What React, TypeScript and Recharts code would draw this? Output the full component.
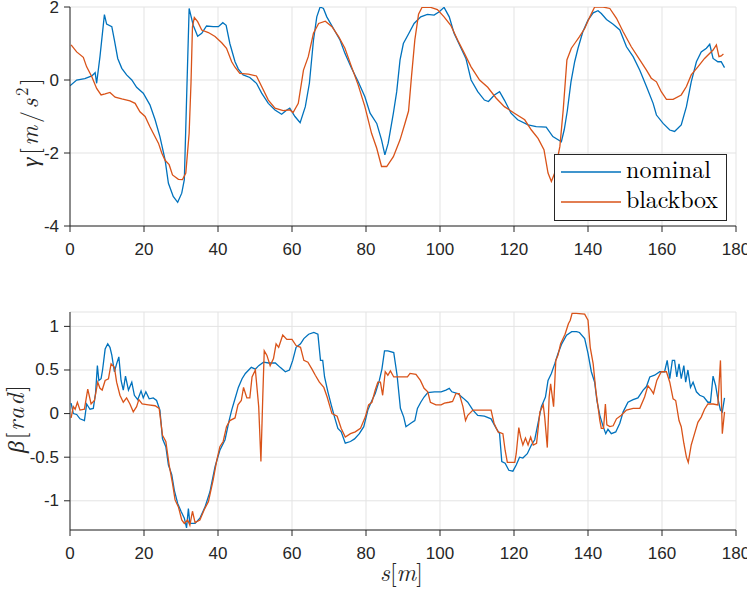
import React from 'react';
import { LineChart, Line, XAxis, YAxis, CartesianGrid, Legend, Label } from 'recharts';

const AXIS = '#262626';
const GRID = '#e3e3e3';
const BLUE = '#0072BD';
const ORANGE = '#D95319';
const TICK_FONT = '"Liberation Sans", Arial, Helvetica, sans-serif';
const MATH_FONT = '"Latin Modern Roman", "Liberation Serif", serif';

const xTicks = [0, 20, 40, 60, 80, 100, 120, 140, 160, 180];
const gammaTicks = [-4, -2, 0, 2];
const betaTicks = [-1, -0.5, 0, 0.5, 1];
const legendOrder = ['nominal', 'blackbox'];

// gamma (top), nominal
const gammaNominalS = [0, 1.8, 4, 5.9, 6.8, 7.2, 8.1, 9.3, 9.9, 11.3, 12, 12.9, 14, 15.3, 16.7, 18, 19.8, 21.6, 23, 24.3, 25.7, 26.6, 27.9, 29.1, 30.2, 30.9, 31.5, 32.2, 33.3, 34.5, 35.6, 36.9, 38.7, 40.1, 41.3, 42.2, 43.2, 44.6, 45.5, 46.8, 48.6, 50.4, 51.8, 53.6, 55.4, 57.2, 58.6, 59.4, 60.8, 62.2, 63.6, 64.7, 65.8, 66.7, 67.6, 68.5, 69.4, 71.2, 73, 74.3, 76.1, 77.9, 79.7, 81.1, 82.9, 84.2, 85.1, 86, 87.4, 88.3, 89.2, 90.1, 91.6, 93, 94.8, 96.6, 98.4, 99.8, 101.1, 102.5, 103.8, 105.7, 107, 108.4, 110.2, 112, 113.1, 114.7, 116.1, 117.4, 119.2, 121, 123.8, 126, 128.7, 130.5, 132.8, 133.6, 134.4, 135.4, 136.4, 137.3, 138.6, 140, 141.4, 142.7, 143.6, 145, 146.8, 148.6, 150.4, 152.2, 154, 155.8, 157.6, 158.5, 160.3, 162.1, 163.4, 165.2, 166.6, 167.9, 169.3, 170.6, 172, 172.9, 173.8, 175.1, 176, 176.9];
const gammaNominal = [-0.16, 0, 0.04, 0.11, 0.2, -0.09, 0.64, 1.79, 1.53, 1.46, 1.09, 0.59, 0.32, 0.14, 0, -0.2, -0.36, -0.68, -1.09, -1.55, -2.19, -2.83, -3.19, -3.35, -3.1, -2.73, -0.55, 1.96, 1.5, 1.2, 1.28, 1.48, 1.46, 1.46, 1.57, 1.5, 1.0, 0.5, 0.3, 0.14, 0.07, -0.09, -0.36, -0.64, -0.82, -0.94, -0.82, -0.77, -1.0, -1.17, -0.73, -0.09, 1.09, 1.73, 2.0, 1.96, 1.73, 1.41, 1.09, 0.73, 0.32, -0.05, -0.46, -0.91, -1.19, -1.64, -2.05, -1.73, -0.91, -0.32, 0.55, 1.0, 1.28, 1.55, 1.73, 1.8, 1.78, 1.87, 1.99, 1.73, 1.28, 0.87, 0.59, 0, -0.32, -0.55, -0.59, -0.41, -0.32, -0.55, -0.91, -1.09, -1.23, -1.28, -1.29, -1.55, -1.69, -1.35, -0.85, -0.05, 0.5, 0.87, 1.32, 1.64, 1.84, 1.9, 1.82, 1.66, 1.53, 1.37, 0.91, 0.64, 0.27, -0.18, -0.64, -0.96, -1.19, -1.37, -1.41, -1.23, -0.73, -0.05, 0.5, 0.77, 0.87, 0.98, 0.59, 0.5, 0.5, 0.34];

// gamma (top), blackbox
const gammaBlackboxS = [0.3, 1.8, 3.6, 4.5, 5.9, 7.2, 8.4, 9.5, 10.8, 12.2, 14, 16.2, 17.6, 18.9, 20.3, 21.6, 22.5, 23.9, 24.8, 25.7, 26.8, 27.7, 29.3, 30.4, 31.3, 32.2, 32.7, 33.1, 33.6, 34.5, 35.6, 37.4, 39.2, 41, 42.3, 43.7, 44.6, 45.9, 48.2, 50.4, 51.8, 53.6, 55.4, 57.6, 59.4, 60.3, 61.7, 63.1, 64.4, 65.8, 67.2, 69, 70.8, 72.6, 74.3, 76.1, 77.9, 79.7, 81.5, 82.9, 84.2, 85.6, 87.4, 89.2, 90.5, 91.5, 92.3, 93.2, 94.2, 95.2, 97.5, 99.3, 101.1, 102.9, 104.8, 106.6, 108.4, 110.7, 112.9, 115.2, 117.4, 120.1, 122.9, 124.7, 126.5, 128.1, 129.2, 130.1, 131, 132.4, 133.3, 134.3, 135.5, 136.4, 137.7, 139.1, 140.5, 141.8, 144.1, 145.9, 147.7, 149.5, 151.7, 154, 155.8, 157.1, 158.5, 159.8, 161.2, 163, 165.2, 166.6, 167.9, 169.7, 171.5, 173.8, 174.7, 175.4, 176, 176.6];
const gammaBlackbox = [0.96, 0.77, 0.62, 0.36, 0.09, -0.23, -0.41, -0.38, -0.34, -0.47, -0.52, -0.57, -0.64, -0.87, -1.0, -1.28, -1.46, -1.73, -2.0, -2.2, -2.32, -2.6, -2.72, -2.73, -2.55, -1.46, -0.09, 1.46, 1.71, 1.6, 1.37, 1.3, 1.19, 1.02, 0.87, 0.5, 0.35, 0.18, 0.16, 0.11, -0.18, -0.55, -0.77, -0.84, -0.82, -0.89, -0.64, 0.27, 0.64, 1.28, 1.55, 1.61, 1.46, 1.19, 0.87, 0.36, -0.14, -0.73, -1.46, -1.87, -2.37, -2.37, -2.1, -1.64, -1.2, -0.85, 0.1, 1.1, 1.8, 2.0, 1.99, 1.93, 1.73, 1.5, 1.09, 0.73, 0.36, 0, -0.2, -0.5, -0.73, -0.91, -1.09, -1.37, -1.6, -1.91, -2.55, -2.78, -2.55, -1.82, -0.82, 0.55, 0.87, 1.0, 1.19, 1.41, 1.73, 2.0, 2.0, 1.96, 1.69, 1.32, 0.91, 0.55, 0.27, 0.05, -0.05, -0.32, -0.53, -0.53, -0.41, -0.18, 0.14, 0.36, 0.59, 0.82, 0.96, 0.64, 0.66, 0.71];

// beta (bottom), nominal
const betaNominalS = [0.3, 0.9, 1.8, 2.7, 3.9, 4.5, 5.4, 6.3, 6.9, 7.4, 7.8, 8.4, 8.8, 9.5, 10.2, 10.8, 11.3, 12, 12.6, 13.2, 13.8, 14.4, 15, 15.8, 16.7, 17.4, 18.3, 19.2, 19.8, 20.5, 21.4, 22.5, 23.4, 24.3, 25, 25.9, 26.6, 27.5, 28.2, 29.1, 30, 30.9, 31.5, 32, 32.4, 33.8, 35.1, 36.5, 37.8, 39.2, 40.5, 41.9, 43, 43.7, 44.6, 45.5, 46.5, 47.4, 48.3, 49, 50.1, 51, 52.3, 53.7, 55.5, 56.8, 58.2, 59.3, 60.2, 61.1, 62.3, 63.2, 64.5, 65.9, 67, 67.7, 68.3, 68.8, 69.7, 70.6, 71.5, 72.4, 73.3, 74.4, 75.8, 76.9, 78.2, 79.4, 80.5, 81.6, 82.5, 83.6, 84.3, 85, 85.9, 87.5, 88.4, 89.3, 90.2, 90.8, 92.1, 93.2, 93.9, 94.8, 95.7, 96.7, 98.5, 100.3, 101.6, 102.5, 103.2, 104.8, 106.2, 107.5, 108.9, 110.2, 112, 113.8, 115.2, 116.1, 116.7, 117.6, 118.6, 119.7, 120.6, 121.5, 122.4, 123.6, 124.7, 125.6, 126.5, 127.4, 128.5, 129.2, 130.1, 131, 131.9, 132.9, 134.2, 135.6, 136.9, 137.7, 139.1, 140, 140.9, 141.8, 142.4, 143.2, 144.1, 144.8, 145.4, 146.3, 147.5, 148.6, 149.5, 150.8, 152.2, 153.5, 154.9, 155.8, 156.7, 158, 159.4, 160.7, 161.4, 162.1, 162.8, 163.4, 164, 164.6, 165.2, 165.9, 166.4, 167, 167.7, 168.4, 169.3, 170.2, 171.3, 172.4, 173.1, 173.8, 174.5, 175.1, 175.8, 176.3, 176.9];
const betaNominal = [0.12, 0, -0.01, -0.06, -0.08, 0.11, 0.05, 0.06, 0.23, 0.55, 0.38, 0.4, 0.5, 0.74, 0.8, 0.76, 0.67, 0.48, 0.57, 0.65, 0.38, 0.27, 0.43, 0.27, 0.36, 0.21, 0.16, 0.26, 0.18, 0.25, 0.17, 0.18, 0.15, 0.04, -0.29, -0.38, -0.59, -0.7, -0.88, -1.03, -1.12, -1.2, -1.31, -1.09, -1.26, -1.26, -1.2, -1.07, -0.9, -0.61, -0.42, -0.3, -0.08, 0.04, 0.17, 0.3, 0.4, 0.46, 0.5, 0.53, 0.51, 0.55, 0.59, 0.58, 0.58, 0.53, 0.48, 0.5, 0.61, 0.76, 0.8, 0.86, 0.91, 0.93, 0.91, 0.61, 0.61, 0.42, 0.25, 0.1, -0.04, -0.17, -0.21, -0.34, -0.32, -0.29, -0.23, -0.15, 0.04, 0.15, 0.23, 0.38, 0.51, 0.72, 0.72, 0.7, 0.44, 0.06, -0.04, -0.15, -0.11, -0.08, 0.06, 0.13, 0.19, 0.24, 0.25, 0.25, 0.27, 0.29, 0.25, 0.23, 0.18, 0.13, 0.04, -0.02, -0.03, -0.06, -0.17, -0.23, -0.55, -0.57, -0.65, -0.66, -0.59, -0.5, -0.51, -0.46, -0.36, -0.3, -0.11, 0.08, 0.19, 0.38, 0.46, 0.57, 0.69, 0.8, 0.9, 0.94, 0.94, 0.93, 0.86, 0.69, 0.48, 0.36, 0.15, -0.02, -0.15, -0.23, -0.18, -0.23, -0.21, -0.11, 0.02, 0.13, 0.16, 0.18, 0.27, 0.31, 0.42, 0.44, 0.48, 0.48, 0.61, 0.4, 0.61, 0.61, 0.42, 0.57, 0.4, 0.55, 0.36, 0.5, 0.3, 0.36, 0.25, 0.21, 0.19, 0.13, 0.13, 0.43, 0.32, 0.17, 0.04, 0.02, 0.18];

// beta (bottom), blackbox
const betaBlackboxS = [0.3, 0.9, 1.4, 2, 2.7, 3.9, 4.8, 5.7, 6.6, 7.5, 8.1, 8.7, 9.5, 10.4, 11.1, 12, 12.6, 13.5, 14.4, 15.3, 16.2, 17.1, 18, 18.6, 19.5, 21.2, 23, 24.1, 25, 25.9, 26.8, 27.7, 28.4, 29.3, 30.2, 30.9, 31.8, 32.4, 33.1, 33.8, 35.1, 36.3, 37.4, 38.7, 39.6, 40.5, 41.4, 42.3, 43.2, 44.6, 45.4, 46.3, 46.9, 47.8, 48.6, 49.2, 50.1, 51, 51.6, 52.1, 52.5, 53.2, 54.1, 55, 55.7, 56.4, 57.5, 58.6, 60, 61.1, 62.3, 63.2, 64.3, 65.4, 66.3, 67.4, 68.6, 69.5, 70.8, 72.2, 73.3, 74.4, 75.8, 77.1, 78.5, 79.8, 80.7, 81.6, 82.5, 83.2, 83.9, 84.5, 85.2, 85.9, 86.6, 87.5, 89.3, 91.2, 91.9, 93.5, 94.7, 95.7, 96.7, 97.4, 98.9, 100.3, 101.2, 102.5, 103.4, 104.3, 105.2, 106.2, 106.9, 107.5, 108.9, 111.1, 113.8, 114.6, 115.7, 117, 117.6, 118.2, 120.2, 120.6, 121.3, 121.8, 122.4, 123.1, 123.8, 124.5, 125.2, 126.1, 127, 127.9, 128.3, 129, 129.5, 129.9, 130.7, 131.3, 131.9, 132.6, 133.8, 134.7, 135.2, 135.7, 136.8, 139.1, 140, 140.6, 141.4, 142.1, 142.7, 143.2, 143.6, 144.2, 144.7, 145.1, 145.9, 146.8, 147.7, 149, 150.4, 152.2, 154, 155.3, 156.2, 157.1, 157.7, 158.6, 159.8, 161.2, 162.1, 163, 163.7, 164.6, 165.2, 165.9, 166.6, 167.1, 167.9, 168.8, 169.7, 170.6, 171.5, 172.4, 173.8, 175.1, 175.8, 176.3, 176.9];
const betaBlackbox = [-0.05, 0.08, 0.05, 0.13, 0.04, 0.05, 0.28, 0.11, 0.15, 0.36, 0.29, 0.27, 0.38, 0.4, 0.57, 0.53, 0.36, 0.21, 0.13, 0.18, 0.11, 0.02, 0.08, 0.16, 0.11, 0.1, 0.09, 0.06, -0.25, -0.32, -0.59, -0.8, -0.99, -1.07, -1.22, -1.26, -1.22, -1.28, -1.12, -1.25, -1.22, -1.1, -1.01, -0.76, -0.55, -0.38, -0.32, -0.15, -0.08, -0.05, 0.1, 0.15, 0.3, 0.18, 0.18, 0.42, 0.5, 0.08, -0.55, 0.19, 0.72, 0.67, 0.55, 0.63, 0.8, 0.76, 0.9, 0.85, 0.85, 0.78, 0.76, 0.61, 0.59, 0.51, 0.44, 0.36, 0.3, 0.19, 0, -0.03, -0.17, -0.27, -0.23, -0.21, -0.17, -0.04, 0.1, 0.13, 0.27, 0.36, 0.36, 0.21, 0.48, 0.44, 0.49, 0.42, 0.42, 0.42, 0.46, 0.45, 0.38, 0.29, 0.25, 0.13, 0.1, 0.1, 0.12, 0.13, 0.14, 0.23, 0.23, 0.08, -0.08, -0.02, 0.04, 0.04, 0.04, -0.11, -0.21, -0.23, -0.42, -0.56, -0.56, -0.46, -0.16, -0.27, -0.36, -0.28, -0.36, -0.27, -0.36, -0.34, 0.02, 0.1, -0.04, -0.39, 0.19, 0.34, 0.08, 0.61, 0.67, 0.8, 0.91, 1.03, 1.07, 1.15, 1.15, 1.14, 1.07, 0.76, 0.57, 0.27, 0.08, -0.08, -0.17, -0.17, 0.11, -0.13, -0.15, -0.14, -0.06, -0.02, 0.04, 0.06, 0.06, 0.19, 0.32, 0.27, 0.23, 0.38, 0.48, 0.48, 0.36, 0.17, 0.15, -0.08, -0.15, -0.34, -0.5, -0.56, -0.36, -0.23, -0.1, -0.04, 0.05, 0.11, 0.11, 0.1, 0.61, -0.23, 0.02];

const zip = (s: number[], v: number[]) => s.map((x, i) => ({ s: x, v: v[i] }));
const gammaNominalData = zip(gammaNominalS, gammaNominal);
const gammaBlackboxData = zip(gammaBlackboxS, gammaBlackbox);
const betaNominalData = zip(betaNominalS, betaNominal);
const betaBlackboxData = zip(betaBlackboxS, betaBlackbox);

const tickStyle = { fontFamily: TICK_FONT, fontSize: 17 };
const mathStyle = { fontFamily: MATH_FONT, fontSize: 24 };

const XTick = (props: any) => {
  const { x, y, payload } = props;
  return (
    <g>
      <line x1={x} y1={y} x2={x} y2={y - 6} stroke={AXIS} strokeWidth={1} />
      <text x={x} y={y + 17} textAnchor="middle" dominantBaseline="central" style={tickStyle} fill={AXIS}>
        {String(payload.value)}
      </text>
    </g>
  );
};

const YTick = (props: any) => {
  const { x, y, payload } = props;
  return (
    <g>
      <line x1={x} y1={y} x2={x + 6} y2={y} stroke={AXIS} strokeWidth={1} />
      <text x={x - 5} y={y} textAnchor="end" dominantBaseline="central" style={tickStyle} fill={AXIS}>
        {String(payload.value)}
      </text>
    </g>
  );
};

// reads bottom-to-top; start (x, y) is the lower end of the label
const GammaLabel = () => {
  const x = 38;
  const y = 167;
  return (
    <text x={x} y={y} transform={`rotate(-90 ${x} ${y})`} textAnchor="start" style={mathStyle} fill={AXIS} textLength={89} lengthAdjust="spacing">
      <tspan fontStyle="italic">γ</tspan>
      <tspan>[</tspan>
      <tspan fontStyle="italic">m</tspan>
      <tspan>/</tspan>
      <tspan fontStyle="italic">s</tspan>
      <tspan dy={-10} fontSize={17}>2</tspan>
      <tspan dy={10}>]</tspan>
    </text>
  );
};

const BetaLabel = () => {
  const x = 24;
  const y = 191;
  return (
    <text x={x} y={y} transform={`rotate(-90 ${x} ${y})`} textAnchor="start" style={mathStyle} fill={AXIS} textLength={68} lengthAdjust="spacing">
      <tspan fontStyle="italic">β</tspan>
      <tspan>[</tspan>
      <tspan fontStyle="italic">rad</tspan>
      <tspan>]</tspan>
    </text>
  );
};

const SLabel = () => (
  <text x={380} y={319} textAnchor="start" style={mathStyle} fill={AXIS} textLength={43} lengthAdjust="spacing">
    <tspan fontStyle="italic">s</tspan>
    <tspan>[</tspan>
    <tspan fontStyle="italic">m</tspan>
    <tspan>]</tspan>
  </text>
);

const legendLengths: Record<string, number> = { nominal: 85, blackbox: 92 };

const LegendBox = (props: any) => {
  const payload = (props.payload || []).filter((p: any) => p && p.value);
  const colorOf = (name: string) => {
    const hit = payload.find((p: any) => p.value === name);
    if (hit && hit.color) return hit.color;
    return name === 'nominal' ? BLUE : ORANGE;
  };
  return (
    <svg width={173} height={67} style={{ display: 'block' }}>
      <rect x={0.5} y={0.5} width={172} height={66} fill="#ffffff" stroke={AXIS} strokeWidth={1} />
      {legendOrder.map((name, i) => {
        const cy = 18 + i * 30;
        return (
          <g key={name}>
            <line x1={7} y1={cy} x2={67} y2={cy} stroke={colorOf(name)} strokeWidth={1.3} />
            <text x={72} y={cy + 6} style={mathStyle} fill="#000000" textLength={legendLengths[name]} lengthAdjust="spacing">
              {name}
            </text>
          </g>
        );
      })}
    </svg>
  );
};

export default function App() {
  return (
    <div style={{ position: 'absolute', left: 0, top: 0, width: 747, height: 589, background: '#ffffff' }}>
      <div style={{ position: 'absolute', left: 0, top: 0 }}>
        <LineChart width={747} height={262} margin={{ top: 7, right: 11, bottom: 0, left: 0 }}>
          <CartesianGrid stroke={GRID} strokeWidth={1} />
          <XAxis type="number" dataKey="s" domain={[0, 180]} ticks={xTicks} interval={0} height={36} tickLine={false} tickMargin={0} tick={<XTick />} axisLine={{ stroke: AXIS, strokeWidth: 1 }} allowDataOverflow />
          <YAxis type="number" domain={[-4, 2]} ticks={gammaTicks} interval={0} width={70} tickLine={false} tickMargin={0} tick={<YTick />} axisLine={{ stroke: AXIS, strokeWidth: 1 }} allowDataOverflow>
            <Label content={<GammaLabel />} />
          </YAxis>
          <Line data={gammaNominalData} dataKey="v" name="nominal" type="linear" dot={false} stroke={BLUE} strokeWidth={1.3} isAnimationActive={false} />
          <Line data={gammaBlackboxData} dataKey="v" name="blackbox" type="linear" dot={false} stroke={ORANGE} strokeWidth={1.3} isAnimationActive={false} />
          <Legend layout="horizontal" verticalAlign="middle" align="center" content={<LegendBox />} wrapperStyle={{ left: 554, top: 154, width: 173, height: 67 }} />
        </LineChart>
      </div>
      <div style={{ position: 'absolute', left: 0, top: 262 }}>
        <LineChart width={747} height={327} margin={{ top: 50, right: 11, bottom: 0, left: 0 }}>
          <CartesianGrid stroke={GRID} strokeWidth={1} />
          <XAxis type="number" dataKey="s" domain={[0, 180]} ticks={xTicks} interval={0} height={59} tickLine={false} tickMargin={0} tick={<XTick />} axisLine={{ stroke: AXIS, strokeWidth: 1 }} allowDataOverflow>
            <Label content={<SLabel />} />
          </XAxis>
          <YAxis type="number" domain={[-1.335, 1.165]} ticks={betaTicks} interval={0} width={70} tickLine={false} tickMargin={0} tick={<YTick />} axisLine={{ stroke: AXIS, strokeWidth: 1 }} allowDataOverflow>
            <Label content={<BetaLabel />} />
          </YAxis>
          <Line data={betaNominalData} dataKey="v" name="nominal" type="linear" dot={false} stroke={BLUE} strokeWidth={1.3} isAnimationActive={false} />
          <Line data={betaBlackboxData} dataKey="v" name="blackbox" type="linear" dot={false} stroke={ORANGE} strokeWidth={1.3} isAnimationActive={false} />
        </LineChart>
      </div>
    </div>
  );
}
